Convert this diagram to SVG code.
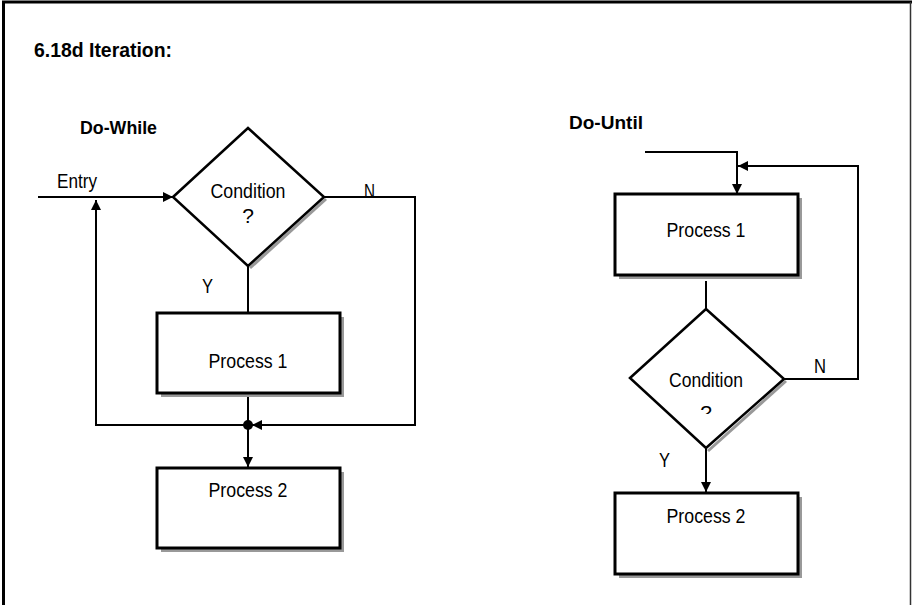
<svg xmlns="http://www.w3.org/2000/svg" width="912" height="605" viewBox="0 0 912 605">
<defs>
<marker id="arr" markerWidth="10" markerHeight="10" viewBox="0 0 10 10" refX="10" refY="5" orient="auto" markerUnits="userSpaceOnUse">
<path d="M0,0 L10,5 L0,10 Z" fill="#000"/>
</marker>
<clipPath id="qclip"><rect x="690" y="395" width="30" height="19"/></clipPath>
</defs>
<style>
.t{font-family:"Liberation Sans",Arial,sans-serif;fill:#000;font-size:21px}
.b{font-weight:bold}
.box{fill:#fff;stroke:#000;stroke-width:3}
.sh{fill:#999;stroke:none}
.dsh{fill:none;stroke:#999;stroke-width:3}
.ln{fill:none;stroke:#000;stroke-width:2}
</style>
<rect width="912" height="605" fill="#fff"/>
<g id="frame">
<line x1="3.5" y1="2" x2="3.5" y2="605" stroke="#000" stroke-width="3"/>
<line x1="2" y1="2" x2="912" y2="2" stroke="#000" stroke-width="3"/>
<line x1="910.5" y1="2" x2="910.5" y2="605" stroke="#333" stroke-width="1.5"/>
</g>
<text class="t b" x="34" y="57" textLength="138" lengthAdjust="spacingAndGlyphs">6.18d Iteration:</text>
<text class="t b" x="80" y="134" style="font-size:18px" textLength="77" lengthAdjust="spacingAndGlyphs">Do-While</text>
<text class="t b" x="569" y="129" style="font-size:19px" textLength="74" lengthAdjust="spacingAndGlyphs">Do-Until</text>

<g id="connectors">
<line class="ln" x1="38" y1="197" x2="173" y2="197" marker-end="url(#arr)"/>
<polyline class="ln" points="324,197 415,197 415,425 252,425" marker-end="url(#arr)"/>
<line class="ln" x1="248" y1="266" x2="248" y2="313"/>
<line class="ln" x1="248" y1="393" x2="248" y2="425"/>
<polyline class="ln" points="248,425 96,425 96,200" marker-end="url(#arr)"/>
<line class="ln" x1="248" y1="425" x2="248" y2="467" marker-end="url(#arr)"/>
<circle cx="248" cy="425" r="5" fill="#000"/>
<polyline class="ln" points="645,152 737,152 737,194" marker-end="url(#arr)"/>
<polyline class="ln" points="784,379 858,379 858,166 738,166" marker-end="url(#arr)"/>
<line class="ln" x1="706" y1="281" x2="706" y2="309"/>
<line class="ln" x1="706" y1="449" x2="706" y2="492" marker-end="url(#arr)"/>
</g>

<g id="dw-condition">
<polyline class="dsh" points="326,199 250,268"/>
<polygon class="box" style="stroke-width:2.5" points="173,197 248,128 324,197 248,266"/>
<text class="t" x="248" y="198" text-anchor="middle" textLength="75" lengthAdjust="spacingAndGlyphs">Condition</text>
<text class="t" x="248" y="223" text-anchor="middle">?</text>
</g>
<g id="dw-process1">
<rect class="sh" x="161" y="317" width="183" height="80"/>
<rect class="box" x="157" y="313" width="183" height="80"/>
<text class="t" x="248" y="368" text-anchor="middle" textLength="79" lengthAdjust="spacingAndGlyphs">Process 1</text>
</g>
<g id="dw-process2">
<rect class="sh" x="161" y="472" width="183" height="80"/>
<rect class="box" x="157" y="468" width="183" height="80"/>
<text class="t" x="248" y="497" text-anchor="middle" textLength="79" lengthAdjust="spacingAndGlyphs">Process 2</text>
</g>
<g id="dw-labels">
<text class="t" x="57" y="188" textLength="40" lengthAdjust="spacingAndGlyphs">Entry</text>
<text class="t" x="364" y="198" textLength="11" lengthAdjust="spacingAndGlyphs">N</text>
<text class="t" x="202" y="293" textLength="11" lengthAdjust="spacingAndGlyphs">Y</text>
</g>

<g id="du-process1">
<rect class="sh" x="619" y="198" width="183" height="81"/>
<rect class="box" x="615" y="194" width="183" height="81"/>
<text class="t" x="706" y="237" text-anchor="middle" textLength="79" lengthAdjust="spacingAndGlyphs">Process 1</text>
</g>
<g id="du-condition">
<polyline class="dsh" points="786,381 708,451"/>
<polygon class="box" style="stroke-width:2.5" points="630,378 706,309 784,379 706,448"/>
<text class="t" x="706" y="387" text-anchor="middle" textLength="74" lengthAdjust="spacingAndGlyphs">Condition</text>
<text class="t" x="706" y="420" text-anchor="middle" clip-path="url(#qclip)">?</text>
</g>
<g id="du-process2">
<rect class="sh" x="619" y="497" width="183" height="81"/>
<rect class="box" x="615" y="493" width="183" height="81"/>
<text class="t" x="706" y="523" text-anchor="middle" textLength="79" lengthAdjust="spacingAndGlyphs">Process 2</text>
</g>
<g id="du-labels">
<text class="t" x="814" y="373" textLength="12" lengthAdjust="spacingAndGlyphs">N</text>
<text class="t" x="659" y="467" textLength="11" lengthAdjust="spacingAndGlyphs">Y</text>
</g>
</svg>
